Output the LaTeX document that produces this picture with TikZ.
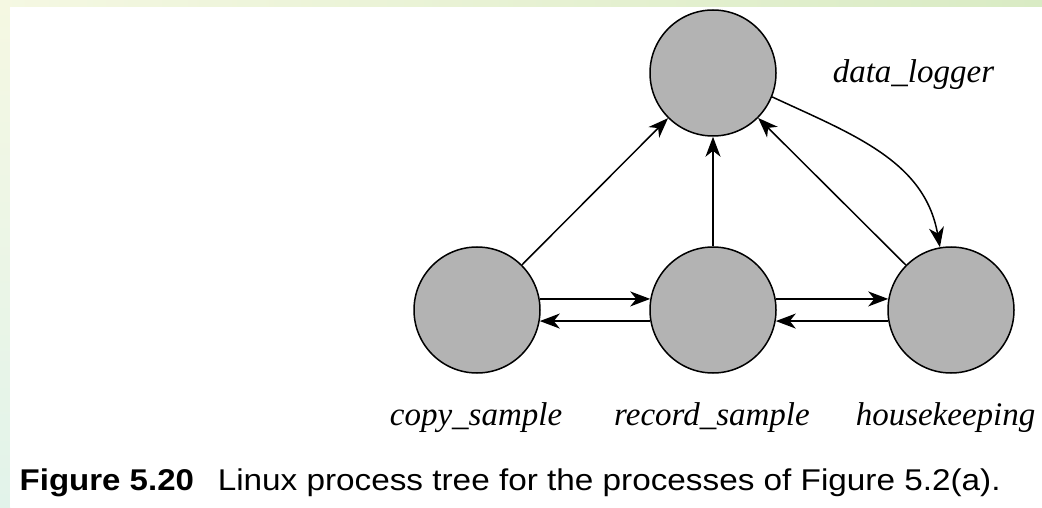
\documentclass[tikz,border=0pt]{standalone}
\usepackage{fontspec}
\usepackage{graphicx}
\setmainfont{Liberation Serif}
\newfontfamily\capfont{Liberation Sans}
\usetikzlibrary{arrows.meta}
\definecolor{procgray}{HTML}{B3B3B3}
\definecolor{bgyellow}{HTML}{EEF3CF}
\definecolor{bggreen}{HTML}{D9EBC4}
\definecolor{bgcyan}{HTML}{E2F3EA}
\tikzset{
	proc/.style={circle,draw,line width=1.5pt,fill=procgray,minimum size=126pt,inner sep=0pt},
	lbl/.style={font=\fontsize{33}{36}\selectfont\itshape,inner sep=0pt},
	captxt/.style={font=\capfont\fontsize{30}{34}\selectfont,inner sep=0pt,anchor=base west},
}

\begin{document}
\begin{tikzpicture}[x=1pt,y=1pt,line width=1.5pt,>={Stealth[length=20pt,width=15pt,inset=6pt]}]
\useasboundingbox (0,0) rectangle (1042,507);
\shade[left color=bgyellow!60,right color=bggreen] (0,500) rectangle (1042,507);
\shade[top color=bgyellow!60,bottom color=bgcyan] (0,0) rectangle (10,500);
\fill[white] (10,0) rectangle (1042,500);
\node[proc] (logger) at (713,434) {};
\node[proc] (copy) at (477,197) {};
\node[proc] (record) at (713,197) {};
\node[proc] (house) at (951,197) {};
\draw[->] (copy)--(logger);
\draw[->] (record)--(logger);
\draw[->] (house)--(logger);
\draw[->] (logger.-22) to[out=-25,in=100] (house.100);
\draw[->] (copy.10)--(record.170);
\draw[->] (record.190)--(copy.-10);
\draw[->] (record.10)--(house.170);
\draw[->] (house.190)--(record.-10);
\node[lbl,anchor=base west] (loggertxt) at (832,424) {data\_logger};
\node[lbl,anchor=base] (copytxt) at (476,82) {copy\_sample};
\node[lbl,anchor=base] (recordtxt) at (712,82) {record\_sample};
\node[lbl,anchor=base west] (housetxt) at (855,82) {housekeeping};
\node[captxt] (fignum) at (19,17) {\scalebox{1.1}[1]{\bfseries Figure 5.20}};
\node[captxt] (figtxt) at (217,17) {\scalebox{1.11}[1]{Linux process tree for the processes of Figure 5.2(a).}};
\end{tikzpicture}
\end{document}
